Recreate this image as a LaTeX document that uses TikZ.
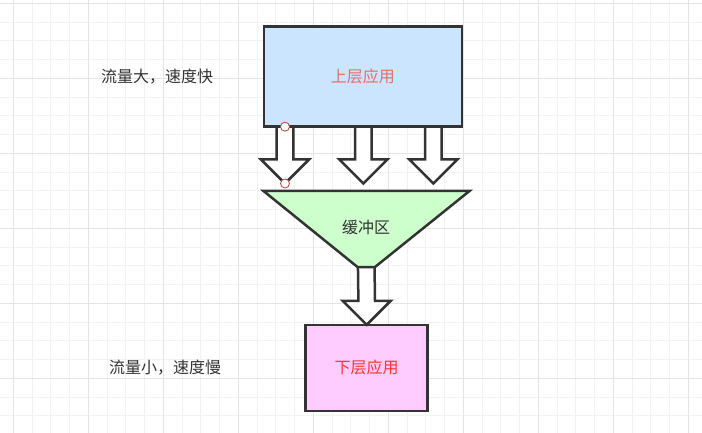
\documentclass[tikz,border=0pt]{standalone}
\usepackage{fontspec}
\usepackage{xcolor}
\usepackage{tikz}
\usetikzlibrary{positioning, calc}
\newfontfamily\cjk{Noto Sans CJK SC}
\definecolor{upperfill}{RGB}{204, 229, 255}
\definecolor{lowerfill}{RGB}{255, 204, 255}
\definecolor{bufferfill}{RGB}{204, 255, 204}
\definecolor{edge}{RGB}{51, 51, 51}
\definecolor{gridminor}{RGB}{242, 242, 242}
\definecolor{gridmajor}{RGB}{228, 228, 228}
\definecolor{uppertext}{RGB}{234, 107, 102}
\definecolor{lowertext}{RGB}{255, 51, 51}
\definecolor{handle}{RGB}{170, 70, 70}

\tikzset{
  layerbox/.style={draw=edge, line width=2.5pt, outer sep=0pt, font=\cjk\fontsize{16}{19}\selectfont},
  sidelabel/.style={text=edge, font=\cjk\fontsize{16}{19}\selectfont},
  blockarrow/.style={draw=edge, line width=2.5pt, fill=white, line join=miter},
  grab/.style={draw=handle, line width=0.8pt, fill=white}
}

% hollow arrow from (#1) straight down to its tip (#2)
\newcommand{\hollowarrow}[2]{%
  \draw[blockarrow] ($(#1)+(-8.3,0)$) -- ($(#2)+(-8.3,-24)$) -- ($(#2)+(-24,-24)$)
    -- (#2) -- ($(#2)+(24,-24)$) -- ($(#2)+(8.3,-24)$) -- ($(#1)+(8.3,0)$);}

\begin{document}
\begin{tikzpicture}[x=1pt, y=-1pt]
  \useasboundingbox (0,0) rectangle (702,433);
  \fill[white] (0,0) rectangle (702,433);

  % background grid
  \begin{scope}
    \clip (0,0) rectangle (702,433);
    \foreach \i in {0,...,37} {
      \draw[gridminor, line width=1pt] (13.3+18.75*\i,0) -- (13.3+18.75*\i,433);
    }
    \foreach \i in {0,...,23} {
      \draw[gridminor, line width=1pt] (0,3.3+18.75*\i) -- (702,3.3+18.75*\i);
    }
    \foreach \i in {0,...,9} {
      \draw[gridmajor, line width=1pt] (13.3+75*\i,0) -- (13.3+75*\i,433);
    }
    \foreach \i in {0,...,5} {
      \draw[gridmajor, line width=1pt] (0,3.3+75*\i) -- (702,3.3+75*\i);
    }
  \end{scope}

  % layers
  \node[layerbox, fill=upperfill, text=uppertext, minimum width=198pt, minimum height=100pt] (upper) at (362.8,76.7) {上层应用};
  \node[layerbox, fill=lowerfill, text=lowertext, minimum width=122pt, minimum height=86pt] (lower) at (366.7,367.8) {下层应用};

  % buffer funnel
  \coordinate (ftl) at (263.5,191);
  \coordinate (ftr) at (469.5,191);
  \coordinate (fbr) at (375,267);
  \coordinate (fbl) at (357.5,267);
  \coordinate (fout) at ($(fbl)!0.5!(fbr)$);

  % arrows into the funnel
  \coordinate (in1) at (285,183.5);
  \coordinate (in2) at (363.3,183.5);
  \coordinate (in3) at (433.3,183.5);
  \foreach \t in {in1, in2, in3} {
    \hollowarrow{upper.south -| \t}{\t}
  }
  \hollowarrow{fout}{lower.north}

  \draw[draw=edge, line width=2.5pt, fill=bufferfill, line join=miter] (ftl) -- (ftr) -- (fbr) -- (fbl) -- cycle;
  \node[sidelabel] (buffer) at (366,227) {缓冲区};

  % redraw layer borders over the arrow ends
  \draw[edge, line width=2.5pt] (upper.south west) rectangle (upper.north east);
  \draw[edge, line width=2.5pt] (lower.south west) rectangle (lower.north east);

  % selection handles
  \draw[grab] (upper.south -| in1) circle (4.5pt);
  \draw[grab] (in1) circle (4.5pt);

  \node[sidelabel] (fast) at (157,77) {流量大，速度快};
  \node[sidelabel] (slow) at (165,368) {流量小，速度慢};
\end{tikzpicture}
\end{document}
